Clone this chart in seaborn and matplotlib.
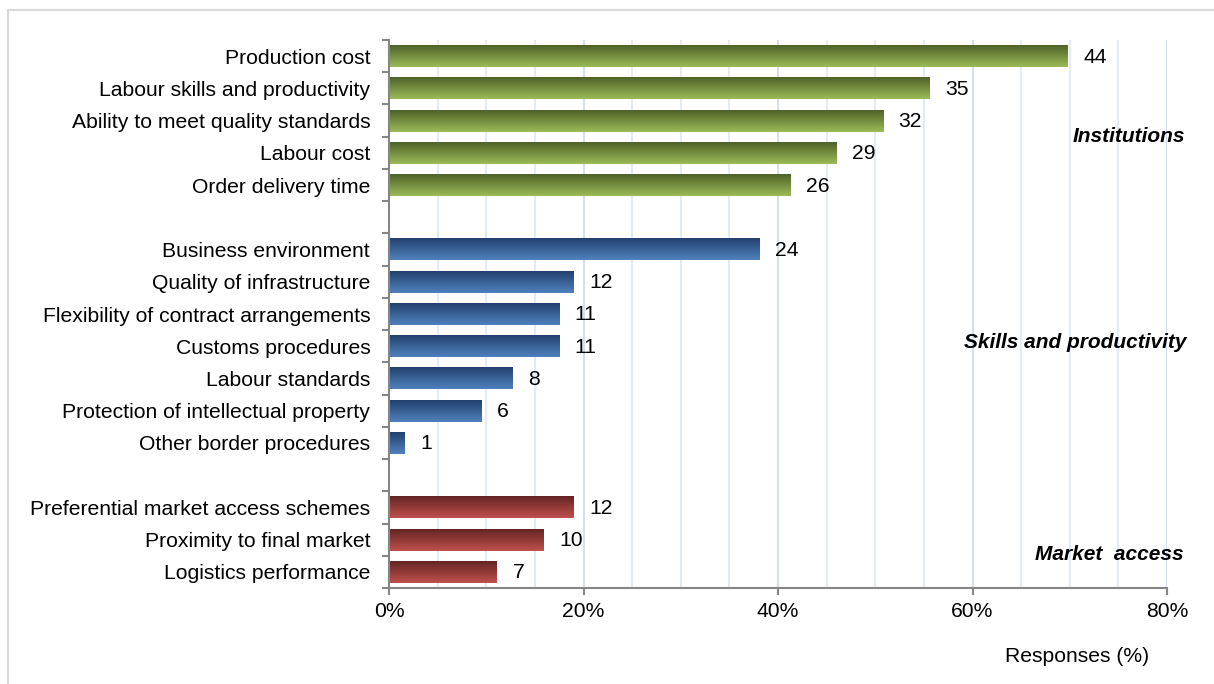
import numpy as np
import pandas as pd
import seaborn as sns
import matplotlib.pyplot as plt
from matplotlib.colors import LinearSegmentedColormap
from matplotlib.patches import Rectangle

# Dados
categorias = ['Production cost', 'Labour skills and productivity', 'Ability to meet quality standards',
              'Labour cost', 'Order delivery time',
              'Business environment', 'Quality of infrastructure', 'Flexibility of contract arrangements',
              'Customs procedures', 'Labour standards', 'Protection of intellectual property',
              'Other border procedures',
              'Preferential market access schemes', 'Proximity to final market', 'Logistics performance']
respostas = [44, 35, 32, 29, 26, 24, 12, 11, 11, 8, 6, 1, 12, 10, 7]
percentual = [69.8, 55.6, 50.8, 46.0, 41.3, 38.1, 19.0, 17.5, 17.5, 12.7, 9.5, 1.6, 19.0, 15.9, 11.1]
grupo = ['inst'] * 5 + ['skills'] * 7 + ['market'] * 3

grupos_texto = {'inst': 'Institutions', 'skills': 'Skills and productivity', 'market': 'Market  access'}
cores = {'inst': ('#4f6228', '#9bbb59'), 'skills': ('#23406e', '#4f81bd'), 'market': ('#632523', '#c0504d')}

df = pd.DataFrame({'Categoria': categorias, 'Pct': percentual, 'N': respostas, 'Grupo': grupo})

# ordem com linhas vazias entre os grupos
ordem = categorias[:5] + [' '] + categorias[5:12] + ['  '] + categorias[12:]

sns.set_style('white')
plt.rcParams['font.family'] = ['Liberation Sans', 'DejaVu Sans']
plt.rcParams['text.color'] = 'black'
plt.rcParams['xtick.color'] = 'black'
plt.rcParams['ytick.color'] = 'black'

fs = 15.2

fig = plt.figure(figsize=(12.14, 6.84), dpi=100)
ax = fig.add_axes([389 / 1214, 1 - 588 / 684, (1167 - 389) / 1214, (588 - 40) / 684])

sns.barplot(data=df, x='Pct', y='Categoria', order=ordem, orient='h', color='#9bbb59',
            width=0.68, ax=ax, zorder=3)

# gradiente vertical em cada barra
grupo_por_cat = dict(zip(categorias, grupo))
grad = np.linspace(0, 1, 100).reshape(-1, 1)
ordem_validas = [c for c in ordem if c.strip()]
for patch, cat in zip(ax.patches, ordem_validas):
    x0, y0 = patch.get_x(), patch.get_y()
    w, h = patch.get_width(), patch.get_height()
    topo, base = cores[grupo_por_cat[cat]]
    cmap = LinearSegmentedColormap.from_list('g', [topo, base])
    ax.imshow(grad, cmap=cmap, aspect='auto', extent=[x0, x0 + w, y0 + h, y0],
              origin='upper', zorder=3, interpolation='bicubic')
    patch.set_visible(False)

# rótulos de valores
for i, cat in enumerate(ordem):
    if not cat.strip():
        continue
    linha = df[df['Categoria'] == cat].iloc[0]
    ax.text(linha['Pct'] + 1.6, i + 0.03, str(linha['N']), va='center', ha='left', fontsize=fs, color='black')

ax.set_xlim(0, 80)
ax.set_ylim(16.5, -0.5)
ax.set_xticks([0, 20, 40, 60, 80])
ax.set_xticklabels(['0%', '20%', '40%', '60%', '80%'], fontsize=fs)
for v in np.arange(5, 81, 5):
    ax.axvline(v, color='#e3ebf5' if v % 20 else '#d5e0ee', lw=1.5, zorder=1)

ax.set_yticks(range(len(ordem)))
ax.set_yticklabels([c if c.strip() else '' for c in ordem], fontsize=fs)
ax.set_yticks(np.arange(-0.5, 17, 1), minor=True)
ax.tick_params(axis='y', which='major', left=True, length=0, pad=13.5)
ax.tick_params(axis='y', which='minor', left=True, length=5, width=1.5, color='#868686', direction='out')
ax.tick_params(axis='x', which='major', bottom=True, length=5, width=1.5, color='#868686',
               direction='out', pad=5)

for lado in ['top', 'right']:
    ax.spines[lado].set_visible(False)
for lado in ['left', 'bottom']:
    ax.spines[lado].set_color('#868686')
    ax.spines[lado].set_linewidth(1.5)
    ax.spines[lado].set_zorder(4)

ax.set_xlabel('')
ax.set_ylabel('')

# nomes dos grupos
ax.text(1185 / 1214, 1 - 136 / 684, grupos_texto['inst'], transform=fig.transFigure, ha='right', va='center',
        fontsize=15, fontweight='bold', style='italic')
ax.text(1187 / 1214, 1 - 343 / 684, grupos_texto['skills'], transform=fig.transFigure, ha='right', va='center',
        fontsize=15, fontweight='bold', style='italic')
ax.text(1184 / 1214, 1 - 555 / 684, grupos_texto['market'], transform=fig.transFigure, ha='right', va='center',
        fontsize=15, fontweight='bold', style='italic')

fig.text(1077 / 1214, 1 - 656 / 684, 'Responses (%)', ha='center', va='center', fontsize=fs)

# moldura do gráfico
fig.patches.append(Rectangle((8 / 1214, -0.1), 1.2, 1 - 10 / 684 + 0.1, transform=fig.transFigure,
                             fill=False, edgecolor='#d9d9d9', lw=1.5))

fig.savefig('out.png', dpi=100)
